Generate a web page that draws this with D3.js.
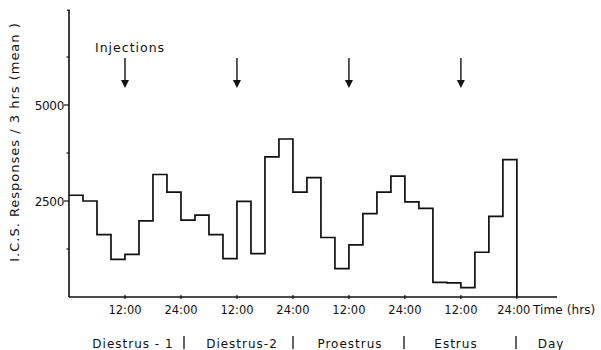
<!DOCTYPE html>
<html><head><meta charset="utf-8">
<script src="https://cdn.jsdelivr.net/npm/d3@7"></script>
<style>
body{margin:0;background:#fff;}
svg{display:block;}
text{font-family:"DejaVu Sans",sans-serif;fill:#111;}
</style></head>
<body>
<script>
// Mean I.C.S. responses per 3-hr bin (32 bins, hours 0..96)
const binStartHours = [0,3,6,9,12,15,18,21,24,27,30,33,36,39,42,45,48,51,54,57,60,63,66,69,72,75,78,81,84,87,90,93];
const responses = [2650,2500,1625,980,1110,1980,3190,2730,2000,2130,1625,1000,2490,1130,3650,4115,2730,3110,1550,740,1355,2170,2730,3150,2475,2310,380,370,245,1165,2100,3580];
const tickHours = [12,24,36,48,60,72,84,96];
const tickLabels = ["12:00","24:00","12:00","24:00","12:00","24:00","12:00","24:00"];
const yTickValues = [2500,5000];
const yTickLabels = ["2500","5000"];
const yMinorTicks = [1250,3750,6250];
const injectionHours = [12,36,60,84];
const phases = ["Diestrus - 1","Diestrus-2","Proestrus","Estrus","Day"];
const phaseCentersPx = [133,242,350,456,551];
const phaseDividersPx = [184,293,404,516];

const W=601,H=350;
const svg=d3.select("body").append("svg").attr("width",W).attr("height",H);
const x=d3.scaleLinear().domain([0,104.6]).range([69,557]);
const y=d3.scaleLinear().domain([0,7500]).range([297,9]);

// axes lines
svg.append("line").attr("x1",x(0)).attr("x2",x(0)).attr("y1",y(0)).attr("y2",y(7470))
  .attr("stroke","#111").attr("stroke-width",1.6);
svg.append("line").attr("x1",x(0)+1).attr("x2",x(0)-2).attr("y1",y(7470)).attr("y2",y(7470))
  .attr("stroke","#111").attr("stroke-width",1.2);
svg.append("line").attr("x1",x(0)).attr("x2",x(104.6)).attr("y1",y(0)).attr("y2",y(0))
  .attr("stroke","#111").attr("stroke-width",1.4);

// y ticks
svg.selectAll(".ymaj").data(yTickValues).enter().append("line")
  .attr("x1",x(0)-5).attr("x2",x(0)).attr("y1",d=>y(d)).attr("y2",d=>y(d))
  .attr("stroke","#111").attr("stroke-width",1.2);
svg.selectAll(".ymin").data(yMinorTicks).enter().append("line")
  .attr("x1",x(0)-2.5).attr("x2",x(0)).attr("y1",d=>y(d)).attr("y2",d=>y(d))
  .attr("stroke","#111").attr("stroke-width",1.2);
svg.selectAll(".ylab").data(yTickValues).enter().append("text")
  .attr("x",x(0)-5).attr("y",d=>y(d)+4.5).attr("text-anchor","end")
  .attr("font-size",12).attr("letter-spacing",-0.3).text((d,i)=>yTickLabels[i]);

// x ticks
svg.selectAll(".xt").data(tickHours).enter().append("line")
  .attr("x1",d=>x(d)).attr("x2",d=>x(d)).attr("y1",y(0)-2).attr("y2",y(0)+2)
  .attr("stroke","#111").attr("stroke-width",1.2);
svg.selectAll(".xl").data(tickHours).enter().append("text")
  .attr("x",(d,i)=>x(d)-(i===tickHours.length-1?3:0)).attr("y",314).attr("text-anchor","middle")
  .attr("font-size",11.5).text((d,i)=>tickLabels[i]);
svg.append("text").attr("x",533).attr("y",314).attr("font-size",12).attr("letter-spacing",0.1).text("Time (hrs)");

// y label
svg.append("text").attr("transform","translate(19,142) rotate(-90)")
  .attr("text-anchor","middle").attr("font-size",13).attr("letter-spacing",1.0)
  .text("I.C.S. Responses / 3 hrs (mean )");

// step line
const pts = binStartHours.map((h,i)=>[h,responses[i]]);
pts.push([96,responses[responses.length-1]]);
pts.push([96,0]);
const line=d3.line().x(d=>x(d[0])).y(d=>y(d[1])).curve(d3.curveStepAfter);
svg.append("path").attr("d",line(pts)).attr("fill","none")
  .attr("stroke","#111").attr("stroke-width",1.7).attr("stroke-linejoin","miter");

// injections
svg.append("text").attr("x",95).attr("y",51.5).attr("font-size",12.5).attr("letter-spacing",1)
  .text("Injections");
const arr=svg.selectAll(".arr").data(injectionHours).enter().append("g");
arr.append("line").attr("x1",d=>x(d)).attr("x2",d=>x(d)).attr("y1",58).attr("y2",82)
  .attr("stroke","#111").attr("stroke-width",1.4);
arr.append("path").attr("d",d=>`M${x(d)-4},80 L${x(d)+4},80 L${x(d)},88 Z`).attr("fill","#111");

// phases
svg.selectAll(".ph").data(phases).enter().append("text")
  .attr("x",(d,i)=>phaseCentersPx[i]).attr("y",348).attr("text-anchor","middle")
  .attr("font-size",12).attr("letter-spacing",1).text(d=>d);
svg.selectAll(".pd").data(phaseDividersPx).enter().append("line")
  .attr("x1",d=>d).attr("x2",d=>d).attr("y1",336).attr("y2",349)
  .attr("stroke","#111").attr("stroke-width",1.3);
</script>
</body></html>
